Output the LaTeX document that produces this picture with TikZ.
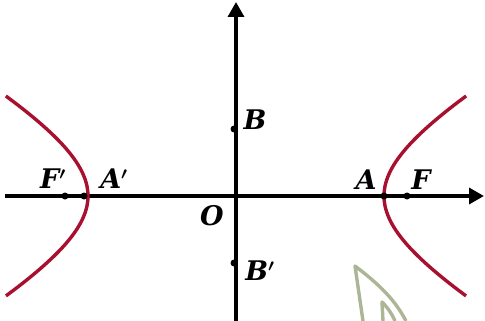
\documentclass[tikz,border=0pt]{standalone}
\usepackage{fontspec}
\setmainfont{DejaVu Serif}
\usetikzlibrary{arrows.meta}
\definecolor{hypred}{RGB}{168,16,48}
\definecolor{wmgreen}{RGB}{172,182,150}
\tikzset{
  axis/.style={line width=3.4pt,-{Triangle[length=15pt,width=16pt]}},
  hyp/.style={line width=3.4pt,hypred},
  dot/.style={circle,fill=black,inner sep=0pt,minimum size=7pt},
  lbl/.style={font=\fontsize{27}{27}\selectfont\bfseries\itshape,inner sep=0pt},
  wm/.style={line width=3.4pt,wmgreen,line join=round}
}
\newcommand{\prm}{$\boldsymbol{'}$}
\usepackage{amsmath}
\begin{document}
\begin{tikzpicture}[x=1pt,y=-1pt]
\useasboundingbox (0,0) rectangle (485,321);
% watermark
\draw[wm] (363,321) -- (355,266) .. controls (380,285) and (395,300) .. (406,321);
\draw[wm] (383,321) -- (382,302) .. controls (388,308) and (392,314) .. (395,321);
% axes
\coordinate (xs) at (5,196);
\coordinate (xe) at (484,196);
\coordinate (ys) at (236,321);
\coordinate (ye) at (236,2);
\draw[axis] (xs) -- (xe);
\draw[axis] (ys) -- (ye);
% hyperbola
\draw[hyp] plot[domain=-1.01:1.01,samples=60,smooth] ({236+148*cosh(\x)},{196+84*sinh(\x)});
\draw[hyp] plot[domain=-1.01:1.01,samples=60,smooth] ({236-148*cosh(\x)},{196+84*sinh(\x)});
% points
\node[dot] (A) at (384,196) {};
\node[dot] (F) at (407,196) {};
\node[dot] (Ap) at (84,196) {};
\node[dot] (Fp) at (65,196) {};
\node[dot] (B) at (234,129) {};
\node[dot] (Bp) at (234,263) {};
% labels
\node[lbl] (lA) at (366,180) {A};
\node[lbl] (lF) at (421,180) {F};
\node[lbl] (lAp) at (114,179) {A\prm};
\node[lbl] (lFp) at (53,179) {F\prm};
\node[lbl] (lB) at (255,120) {B};
\node[lbl] (lBp) at (260,271) {B\prm};
\node[lbl] (lO) at (212,216) {O};
\end{tikzpicture}
\end{document}
